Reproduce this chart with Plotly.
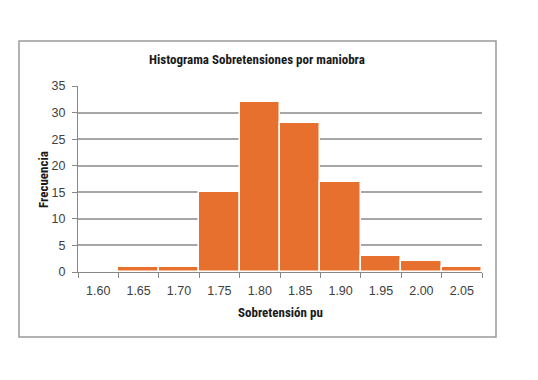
import plotly.graph_objects as go

categories = ["1.60", "1.65", "1.70", "1.75", "1.80", "1.85", "1.90", "1.95", "2.00", "2.05"]
frequencies = [0, 1, 1, 15, 32, 28, 17, 3, 2, 1]
y_ticks = [0, 5, 10, 15, 20, 25, 30, 35]

W, H = 538, 380
OFF = 8  # page body margin
L, R, T, B = 78 - OFF, 538 - (482 - OFF), 86 - OFF, 380 - (272 - OFF)
pw, ph = W - L - R, H - T - B

def px(x):
    return (x - OFF - L) / pw

def py(y):
    return (H - B - (y - OFF)) / ph

fig = go.Figure(go.Bar(
    x=categories, y=frequencies,
    marker=dict(color="#E8702F", line=dict(color="white", width=1.5)),
))

font_body = "Liberation Sans, Arial, sans-serif"
font_title = "Liberation Sans Narrow, Roboto Condensed, Arial Narrow, sans-serif"

fig.update_layout(
    width=W, height=H,
    margin=dict(l=L, r=R, t=T, b=B),
    paper_bgcolor="white", plot_bgcolor="white",
    bargap=0, showlegend=False,
    font=dict(family=font_body, size=12, color="#404040"),
    xaxis=dict(
        type="category", tickson="boundaries", ticks="outside",
        ticklen=5, tickcolor="#888888", tickwidth=1,
        showline=True, linecolor="#888888", linewidth=1,
        showgrid=False, tickfont=dict(size=12.5, color="#404040"),
        ticklabelstandoff=7,
        range=[-0.5, len(categories) - 0.5],
    ),
    yaxis=dict(
        range=[0, 35], tickvals=y_ticks, ticks="outside",
        ticklen=5, tickcolor="#888888",
        showline=True, linecolor="#888888", linewidth=1,
        showgrid=True, gridcolor="#a6a6a6", gridwidth=1.5,
        zeroline=False, tickfont=dict(size=12.5, color="#404040"),
        ticklabelstandoff=4,
    ),
    shapes=[dict(
        type="rect", xref="paper", yref="paper",
        x0=px(19), x1=px(496), y0=py(337), y1=py(41),
        line=dict(color="#9a9a9a", width=1.5), fillcolor="rgba(0,0,0,0)",
        layer="below",
    )],
    annotations=[
        dict(text="<b>Histograma Sobretensiones por maniobra</b>",
             xref="paper", yref="paper", x=px(257), y=py(60),
             xanchor="center", yanchor="middle",
             showarrow=False, font=dict(family=font_title, size=13, color="#1a1a1a")),
        dict(text="<b>Sobretensión pu</b>",
             xref="paper", yref="paper", x=px(280), y=py(312),
             xanchor="center", yanchor="middle",
             showarrow=False, font=dict(family=font_title, size=13, color="#1a1a1a")),
        dict(text="<b>Frecuencia</b>", textangle=-90,
             xref="paper", yref="paper", x=px(43), y=py(180),
             xanchor="center", yanchor="middle",
             showarrow=False, font=dict(family=font_title, size=13, color="#1a1a1a")),
    ],
)

fig.write_html("out.html")
